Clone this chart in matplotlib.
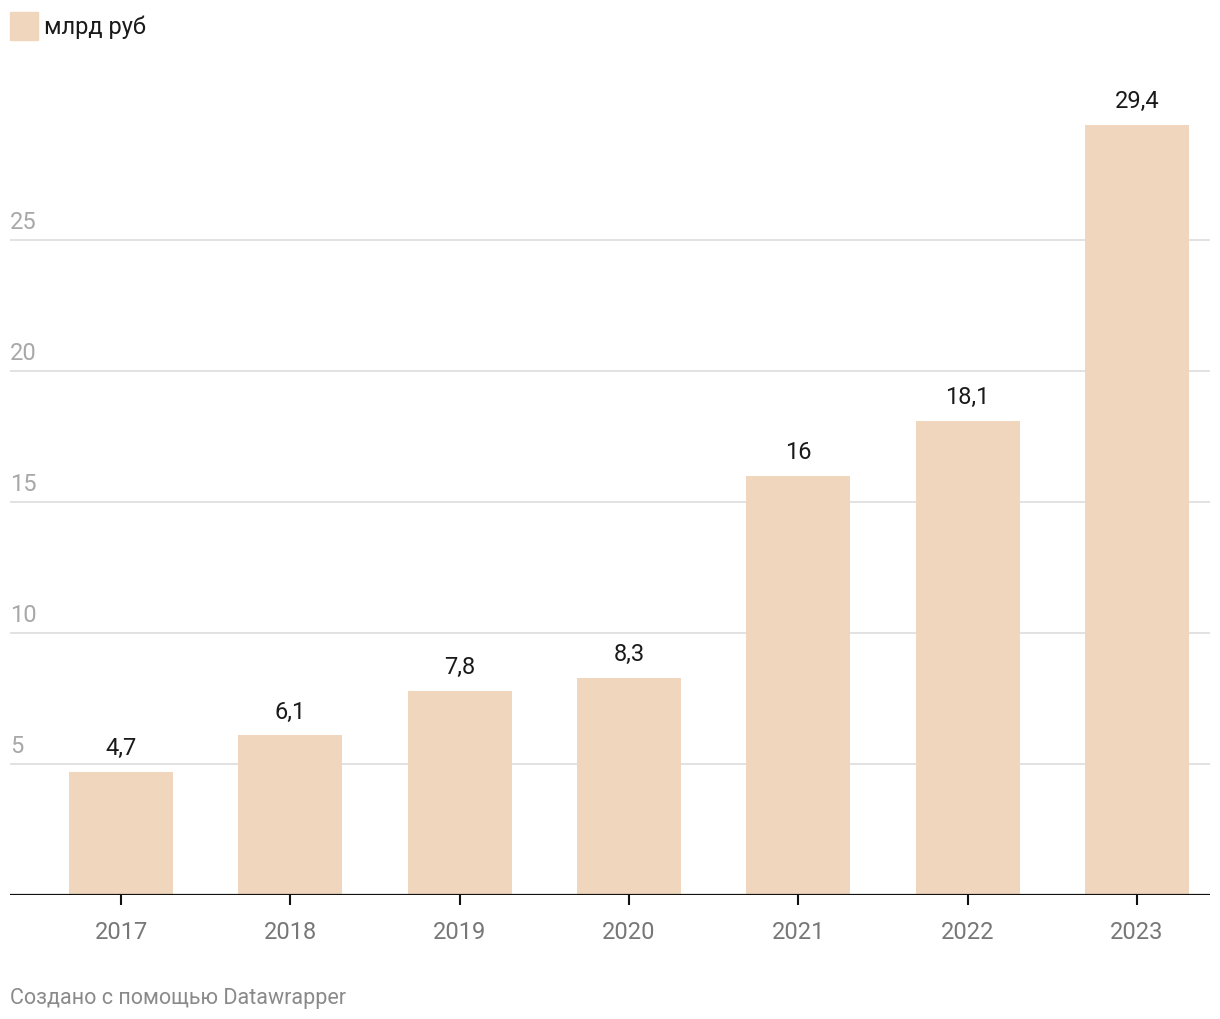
import matplotlib.pyplot as plt
from matplotlib.transforms import offset_copy

plt.rcParams['font.family'] = ['Roboto', 'DejaVu Sans']

years = ['2017', '2018', '2019', '2020', '2021', '2022', '2023']
values = [4.7, 6.1, 7.8, 8.3, 16, 18.1, 29.4]
labels = ['4,7', '6,1', '7,8', '8,3', '16', '18,1', '29,4']
yticks = [5, 10, 15, 20, 25]

bar_color = '#f0d6bc'

fig = plt.figure(figsize=(12.2, 10.2), dpi=100)
W, H = 1220, 1020
# axes box in pixels: left 10, right 1210, baseline ~893, top for 30
ax = fig.add_axes([10 / W, (H - 896) / H, 1200 / W, 786 / H])

x = list(range(len(years)))
ax.bar(x, values, width=0.614, color=bar_color, zorder=2)

ax.set_ylim(0, 30)
ax.set_xlim(-0.656, 6.432)

ytrans = offset_copy(ax.get_yaxis_transform(), fig=fig, x=0, y=5, units='points')
for yv in yticks:
    ax.axhline(yv, color='#e2e2e2', lw=1.4, zorder=1)
    ax.text(0, yv, str(yv), transform=ytrans,
            ha='left', va='bottom', fontsize=17, color='#a8a8a8')

for xi, v, lab in zip(x, values, labels):
    ax.annotate(lab, (xi, v), xytext=(0, 9), textcoords='offset points',
                ha='center', va='bottom', fontsize=17, color='#1a1a1a')

ax.axhline(0, color='#111111', lw=1.6, zorder=3)

for s in ax.spines.values():
    s.set_visible(False)
ax.set_yticks([])
ax.set_xticks(x)
ax.set_xticklabels(years, fontsize=17, color='#777777')
ax.tick_params(axis='x', length=7, width=1.5, color='#111111', pad=11)

# legend
fig.patches.append(plt.Rectangle((10 / W, 1 - 41 / H), 28 / W, 28 / H,
                                 transform=fig.transFigure, color=bar_color))
fig.text(44 / W, 1 - 27 / H, 'млрд руб', ha='left', va='center',
         fontsize=17, color='#1a1a1a')

fig.text(10 / W, 1 - 999 / H, 'Создано с помощью Datawrapper', ha='left',
         va='center', fontsize=15.5, color='#8a8a8a')

fig.savefig('out.png', dpi=100, facecolor='white')
